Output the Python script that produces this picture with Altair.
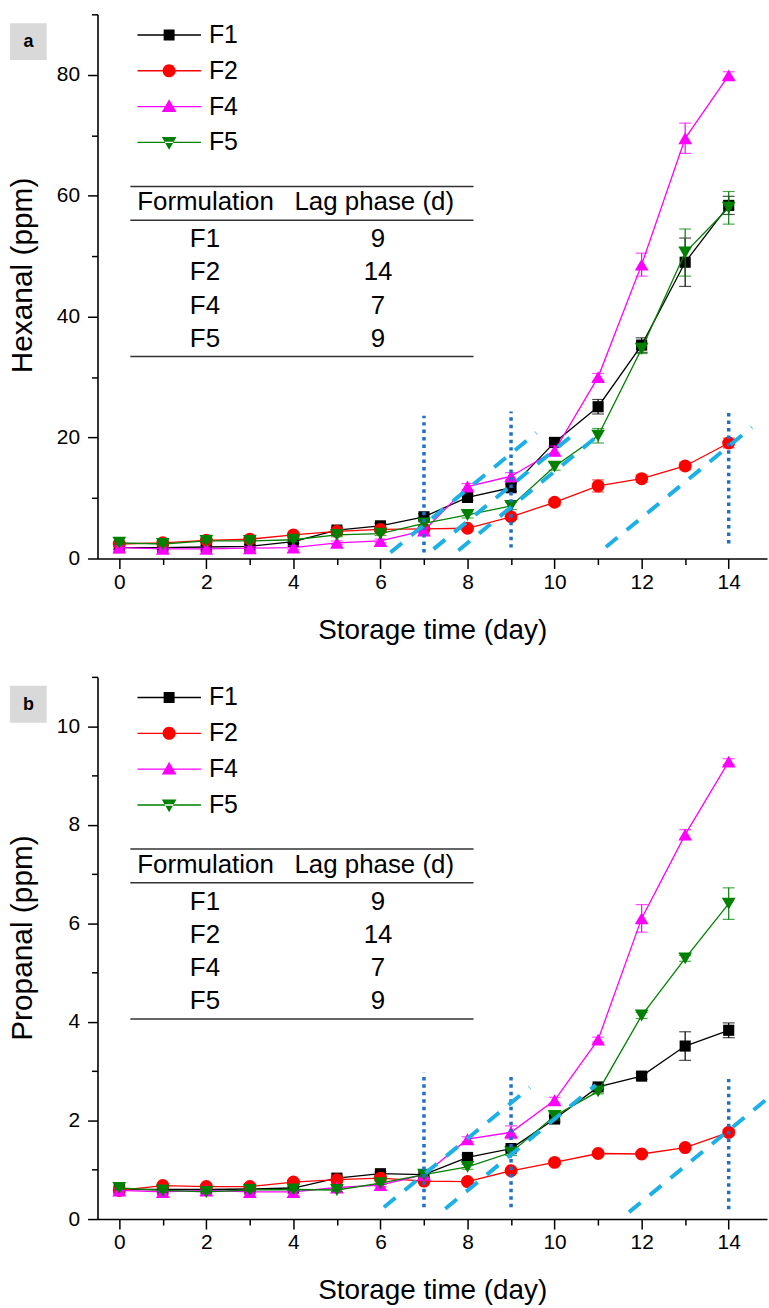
import altair as alt
import pandas as pd

FONT = "Liberation Sans"

days = list(range(15))
series = ["F1", "F2", "F4", "F5"]
colors = ["#000000", "#ff0000", "#ff00ff", "#008000"]
shapes = ["square", "circle", "triangle-up", "triangle-down"]
sizes = [125, 170, 190, 190]

# Panel a: Hexanal (ppm)
hex_F1 = [1.8, 1.8, 1.9, 2.0, 2.8, 4.7, 5.4, 6.9, 10.1, 11.7, 19.2, 25.1, 35.3, 49.0, 58.4]
hex_F2 = [2.4, 2.6, 3.0, 3.2, 3.9, 4.5, 4.8, 4.9, 5.0, 6.9, 9.3, 12.0, 13.2, 15.3, 19.1]
hex_F4 = [1.8, 1.6, 1.6, 1.7, 1.8, 2.6, 2.9, 4.6, 11.9, 13.6, 17.8, 30.0, 48.6, 69.5, 79.9]
hex_F5 = [2.6, 2.4, 2.9, 2.9, 3.1, 3.9, 4.1, 5.8, 7.2, 8.7, 15.2, 20.3, 34.7, 50.6, 58.0]
hex_F1_err = [0.3, 0.3, 0.3, 0.3, 0.3, 0.4, 0.4, 0.5, 0.5, 0.6, 0.6, 1.2, 1.2, 4.0, 1.5]
hex_F2_err = [0.3, 0.3, 0.3, 0.3, 0.3, 0.3, 0.3, 0.3, 0.3, 0.4, 0.5, 1.0, 0.6, 0.6, 0.8]
hex_F4_err = [0.3, 0.3, 0.3, 0.3, 0.3, 0.3, 0.3, 0.4, 0.5, 0.6, 0.8, 0.6, 1.9, 2.5, 0.6]
hex_F5_err = [0.3, 0.3, 0.3, 0.3, 0.3, 0.3, 0.3, 0.4, 0.5, 0.6, 0.6, 1.2, 0.8, 3.9, 2.7]

# Panel b: Propanal (ppm)
pro_F1 = [0.60, 0.60, 0.60, 0.61, 0.63, 0.83, 0.92, 0.90, 1.25, 1.43, 2.03, 2.68, 2.90, 3.51, 3.83]
pro_F2 = [0.58, 0.68, 0.66, 0.66, 0.75, 0.80, 0.83, 0.77, 0.76, 0.98, 1.15, 1.33, 1.32, 1.45, 1.76]
pro_F4 = [0.58, 0.55, 0.58, 0.55, 0.55, 0.64, 0.69, 0.90, 1.62, 1.76, 2.41, 3.64, 6.10, 7.80, 9.28]
pro_F5 = [0.63, 0.58, 0.55, 0.59, 0.60, 0.59, 0.73, 0.90, 1.06, 1.35, 2.09, 2.59, 4.13, 5.29, 6.40]
pro_F1_err = [0.03, 0.03, 0.03, 0.03, 0.03, 0.04, 0.04, 0.04, 0.05, 0.05, 0.06, 0.05, 0.06, 0.29, 0.15]
pro_F2_err = [0.03, 0.03, 0.03, 0.03, 0.03, 0.03, 0.03, 0.03, 0.03, 0.05, 0.04, 0.04, 0.04, 0.04, 0.06]
pro_F4_err = [0.03, 0.03, 0.03, 0.03, 0.03, 0.03, 0.03, 0.04, 0.05, 0.13, 0.06, 0.05, 0.28, 0.10, 0.06]
pro_F5_err = [0.03, 0.03, 0.03, 0.03, 0.03, 0.03, 0.03, 0.04, 0.05, 0.06, 0.08, 0.05, 0.06, 0.06, 0.32]

# Lag-phase table
table_head = ["Formulation", "Lag phase (d)"]
table_form = ["F1", "F2", "F4", "F5"]
table_lag = ["9", "14", "7", "9"]

# Lag-phase guide lines (dotted verticals and dashed tangents)
hex_vline_day = [7, 9, 14]
hex_vline_lo = [1.0, 1.8, 2.5]
hex_vline_hi = [23.6, 24.3, 24.7]
hex_dash_x1 = [6.23, 7.22, 7.79, 11.18]
hex_dash_y1 = [1.0, 1.55, 1.32, 1.9]
hex_dash_x2 = [9.58, 10.53, 10.91, 14.53]
hex_dash_y2 = [20.8, 21.1, 19.8, 21.7]

pro_vline_day = [7, 9, 14]
pro_vline_lo = [0.24, 0.24, 0.2]
pro_vline_hi = [2.97, 2.94, 2.9]
pro_dash_x1 = [6.08, 7.49, 11.71]
pro_dash_y1 = [0.24, 0.21, 0.14]
pro_dash_x2 = [9.43, 10.95, 14.87]
pro_dash_y2 = [2.67, 2.72, 2.43]

# legend glyphs: line + marker
legend_paths = [
    "M-1,-0.022H1V0.022H-1Z M-0.172,-0.172H0.172V0.172H-0.172Z",
    "M-1,-0.022H1V0.022H-1Z M0.205,0A0.205,0.205,0,1,1,-0.205,0A0.205,0.205,0,1,1,0.205,0Z",
    "M-1,-0.022H1V0.022H-1Z M0,-0.23L0.23,0.17L-0.23,0.17Z",
    "M-1,-0.022H1V0.022H-1Z M0,0.23L0.23,-0.17L-0.23,-0.17Z",
]

W = 673


def make_panel(vals, errs, ydom, yticks, ylab_mod, ytitle, tag,
               vday, vlo, vhi, dx1, dy1, dx2, dy2, H):
    rows = []
    for s, vs, es in zip(series, vals, errs):
        for d, v, e in zip(days, vs, es):
            rows.append(dict(series=s, day=d, value=v, lo=v - e, hi=v + e))
    df = pd.DataFrame(rows)

    xscale = alt.Scale(domain=[-0.5, 14.88], nice=False, zero=False)
    yscale = alt.Scale(domain=ydom, nice=False, zero=False)
    xaxis = alt.Axis(
        values=days,
        labelExpr="datum.value % 2 === 0 ? datum.label : ''",
        tickSize={"condition": {"test": "datum.value % 2 === 0", "value": 10}, "value": 6},
        labelPadding=3, titlePadding=24, labelOverlap=False, labelFlush=False,
    )
    ytest = "datum.value % " + str(ylab_mod) + " === 0"
    yaxis = alt.Axis(
        values=yticks,
        labelExpr=ytest + " ? datum.label : ''",
        tickSize={"condition": {"test": ytest, "value": 10}, "value": 6},
        labelPadding=8, titlePadding=19, labelOverlap=False, labelFlush=False,
        titleFontSize=30, titleY=262,
    )

    def X(f):
        return alt.X(f, type="quantitative", scale=xscale, axis=xaxis, title="Storage time (day)")

    def Y(f):
        return alt.Y(f, type="quantitative", scale=yscale, axis=yaxis, title=ytitle)

    base = alt.Chart(df)
    layers = []
    for s, c, shp, sz in zip(series, colors, shapes, sizes):
        sub = base.transform_filter(alt.datum.series == s)
        layers.append(sub.mark_line(color=c, strokeWidth=1.3).encode(x=X("day"), y=Y("value")))
        layers.append(sub.mark_rule(color=c, strokeWidth=1.2).encode(x=X("day"), y=Y("lo"), y2="hi"))
        layers.append(sub.mark_tick(color=c, orient="horizontal", size=12, thickness=1.2).encode(x=X("day"), y=Y("lo")))
        layers.append(sub.mark_tick(color=c, orient="horizontal", size=12, thickness=1.2).encode(x=X("day"), y=Y("hi")))
        layers.append(sub.mark_point(shape=shp, filled=True, size=sz, color=c, opacity=1).encode(x=X("day"), y=Y("value")))

    vdf = pd.DataFrame({"day": vday, "lo": vlo, "hi": vhi})
    layers.append(alt.Chart(vdf).mark_rule(color="#1f6fc8", strokeWidth=3.5, strokeDash=[3.5, 4]).encode(
        x=X("day"), y=Y("lo"), y2="hi"))
    ddf = pd.DataFrame({"x1": dx1, "y1": dy1, "x2": dx2, "y2": dy2})
    layers.append(alt.Chart(ddf).mark_rule(color="#1cb0e6", strokeWidth=4, strokeDash=[15, 12]).encode(
        x=X("x1"), y=Y("y1"), x2="x2", y2="y2"))

    # legend (drawn by the library from the colour / shape scales)
    leg = alt.Legend(orient="none", legendX=40, legendY=3, title=None, labelFont=FONT, labelFontSize=25,
                     labelColor="black", symbolSize=4096, symbolStrokeWidth=0, clipHeight=35.5,
                     rowPadding=0, labelOffset=8, padding=0, symbolOpacity=1, direction="vertical")
    layers.append(alt.Chart(pd.DataFrame({"series": series})).mark_point(filled=True, opacity=1).encode(
        color=alt.Color("series:N", scale=alt.Scale(domain=series, range=colors), legend=leg),
        shape=alt.Shape("series:N", scale=alt.Scale(domain=series, range=legend_paths), legend=leg),
    ).transform_filter("false"))

    # table
    one = pd.DataFrame({"h1": [table_head[0]], "h2": [table_head[1]],
                        "c1": ["\n".join(table_form)], "c2": ["\n".join(table_lag)]})
    tc = alt.Chart(one)
    for yv in [173, 207, 344]:
        layers.append(tc.mark_rule(color="#333333", strokeWidth=1.5).encode(
            x=alt.value(33), x2=alt.value(378), y=alt.value(yv)))
    layers.append(tc.mark_text(font=FONT, fontSize=26, align="left", baseline="middle", color="black").encode(
        x=alt.value(40), y=alt.value(189), text="h1:N"))
    layers.append(tc.mark_text(font=FONT, fontSize=26, align="left", baseline="middle", color="black").encode(
        x=alt.value(198), y=alt.value(189), text="h2:N"))
    layers.append(tc.mark_text(font=FONT, fontSize=26, align="center", baseline="middle", lineBreak="\n",
                               lineHeight=33.4, color="black").encode(
        x=alt.value(108), y=alt.value(226), text="c1:N"))
    layers.append(tc.mark_text(font=FONT, fontSize=26, align="center", baseline="middle", lineBreak="\n",
                               lineHeight=33.4, color="black").encode(
        x=alt.value(282), y=alt.value(226), text="c2:N"))

    # panel tag
    tdf = pd.DataFrame({"tag": [tag]})
    layers.append(alt.Chart(tdf).mark_rect(color="#d9d9d9").encode(
        x=alt.value(-88), x2=alt.value(-51), y=alt.value(9), y2=alt.value(46)))
    layers.append(alt.Chart(tdf).mark_text(font=FONT, fontSize=18, fontWeight="bold", color="black",
                                           align="center", baseline="middle").encode(
        x=alt.value(-69.5), y=alt.value(28), text="tag:N"))

    return alt.layer(*layers).properties(width=W, height=H)


pa = make_panel([hex_F1, hex_F2, hex_F4, hex_F5], [hex_F1_err, hex_F2_err, hex_F4_err, hex_F5_err],
                [0, 90], list(range(0, 91, 10)), 20, "Hexanal (ppm)", "a",
                hex_vline_day, hex_vline_lo, hex_vline_hi, hex_dash_x1, hex_dash_y1, hex_dash_x2, hex_dash_y2, 547)
pb = make_panel([pro_F1, pro_F2, pro_F4, pro_F5], [pro_F1_err, pro_F2_err, pro_F4_err, pro_F5_err],
                [0, 11], list(range(0, 12)), 2, "Propanal (ppm)", "b",
                pro_vline_day, pro_vline_lo, pro_vline_hi, pro_dash_x1, pro_dash_y1, pro_dash_x2, pro_dash_y2, 545)

chart = alt.vconcat(pa, pb, spacing=22).resolve_scale(
    x="independent", y="independent", color="independent", shape="independent"
).properties(
    padding={"left": 7, "top": 0, "right": 0, "bottom": 0}, background="white"
).configure_view(stroke=None).configure_axis(
    labelFont=FONT, titleFont=FONT, labelFontSize=21, titleFontSize=28, titleFontWeight="normal",
    labelColor="black", titleColor="black", domainColor="black", tickColor="black",
    domainWidth=1.6, tickWidth=1.5, grid=False,
)

chart.save("out.html", embed_options={"renderer": "svg", "actions": False})
